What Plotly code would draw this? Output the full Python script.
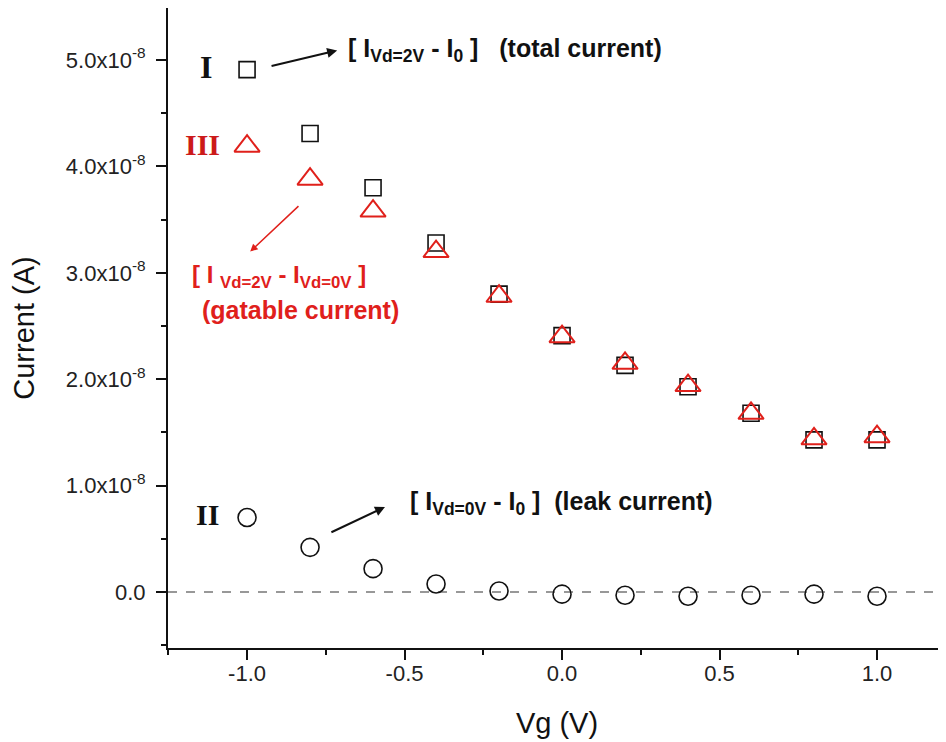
import plotly.graph_objects as go

vg = [-1.0, -0.8, -0.6, -0.4, -0.2, 0.0, 0.2, 0.4, 0.6, 0.8, 1.0]
total_current = [4.91e-8, 4.31e-8, 3.80e-8, 3.28e-8, 2.80e-8, 2.41e-8, 2.13e-8, 1.93e-8, 1.68e-8, 1.43e-8, 1.43e-8]
gatable_current = [4.19e-8, 3.88e-8, 3.58e-8, 3.20e-8, 2.78e-8, 2.40e-8, 2.15e-8, 1.94e-8, 1.68e-8, 1.44e-8, 1.46e-8]
leak_current = [0.70e-8, 0.42e-8, 0.22e-8, 0.075e-8, 0.01e-8, -0.02e-8, -0.03e-8, -0.04e-8, -0.03e-8, -0.02e-8, -0.04e-8]

y_tick_vals = [0.0, 1e-8, 2e-8, 3e-8, 4e-8, 5e-8]
y_tick_text = ["0.0", "1.0x10<sup>-8</sup>", "2.0x10<sup>-8</sup>", "3.0x10<sup>-8</sup>",
               "4.0x10<sup>-8</sup>", "5.0x10<sup>-8</sup>"]
x_tick_vals = [-1.0, -0.5, 0.0, 0.5, 1.0]
x_tick_text = ["-1.0", "-0.5", "0.0", "0.5", "1.0"]

RED = "#e0201b"
SANS = "Liberation Sans, Arial, sans-serif"
SERIF = "Liberation Serif, Times New Roman, serif"

fig = go.Figure()

fig.add_shape(type="line", xref="paper", yref="y", x0=0, x1=1, y0=0, y1=0,
              line=dict(color="#777777", width=1.5, dash="dash"), layer="below")

fig.add_trace(go.Scatter(x=vg, y=total_current, mode="markers", name="I",
                         marker=dict(symbol="square-open", size=16, color="#111111",
                                     line=dict(width=1.6, color="#111111"))))
fig.add_trace(go.Scatter(x=vg, y=gatable_current, mode="markers", name="III",
                         marker=dict(symbol="triangle-up-open", size=22, color=RED,
                                     line=dict(width=2, color=RED))))
fig.add_trace(go.Scatter(x=vg, y=leak_current, mode="markers", name="II",
                         marker=dict(symbol="circle-open", size=18, color="#111111",
                                     line=dict(width=1.6, color="#111111"))))

ann = []
# roman labels
ann.append(dict(x=-1.131, y=4.93e-8, text="<b>I</b>", showarrow=False,
                font=dict(family=SERIF, size=32, color="#111111")))
ann.append(dict(x=-1.143, y=4.21e-8, text="<b>III</b>", showarrow=False,
                font=dict(family=SERIF, size=30, color="#cc1a1a")))
ann.append(dict(x=-1.127, y=0.73e-8, text="<b>II</b>", showarrow=False,
                font=dict(family=SERIF, size=30, color="#111111")))
# total current
ann.append(dict(x=-0.686, y=5.09e-8, xanchor="left", showarrow=False,
                text="<b>[ I<sub>Vd=2V</sub> - I<sub>0</sub> ]   (total current)</b>",
                font=dict(family=SANS, size=25, color="#111111")))
ann.append(dict(x=-0.714, y=5.09e-8, ax=-0.927, ay=4.94e-8, axref="x", ayref="y",
                text="", showarrow=True, arrowhead=2, arrowsize=1, arrowwidth=2,
                arrowcolor="#111111"))
# gatable current
ann.append(dict(x=-1.18, y=2.97e-8, xanchor="left", showarrow=False,
                text="<b>[ I <sub>Vd=2V</sub> - I<sub>Vd=0V</sub> ]</b>",
                font=dict(family=SANS, size=24, color=RED)))
ann.append(dict(x=-0.83, y=2.65e-8, showarrow=False,
                text="<b>(gatable current)</b>",
                font=dict(family=SANS, size=25, color=RED)))
ann.append(dict(x=-0.990, y=3.20e-8, ax=-0.832, ay=3.64e-8, axref="x", ayref="y",
                text="", showarrow=True, arrowhead=2, arrowsize=1, arrowwidth=1.5,
                arrowcolor=RED))
# leak current
ann.append(dict(x=-0.49, y=0.84e-8, xanchor="left", showarrow=False,
                text="<b>[ I<sub>Vd=0V</sub> - I<sub>0</sub> ]  (leak current)</b>",
                font=dict(family=SANS, size=25, color="#111111")))
ann.append(dict(x=-0.562, y=0.80e-8, ax=-0.737, ay=0.555e-8, axref="x", ayref="y",
                text="", showarrow=True, arrowhead=2, arrowsize=1, arrowwidth=2,
                arrowcolor="#111111"))

fig.update_layout(
    width=946, height=742,
    margin=dict(l=160, r=8, t=0, b=102),
    paper_bgcolor="white", plot_bgcolor="white",
    showlegend=False,
    annotations=ann,
    font=dict(family=SANS, color="#222222"),
)
fig.update_xaxes(
    range=[-1.251, 1.219], showgrid=False, zeroline=False, automargin=False,
    showline=True, linecolor="#111111", linewidth=2,
    ticks="outside", ticklen=10, tickwidth=1.5, tickcolor="#111111",
    ticklabelstandoff=-5,
    tickvals=x_tick_vals, ticktext=x_tick_text,
    minor=dict(ticks="outside", ticklen=5, tickwidth=1.5, tickcolor="#111111", dtick=0.25, tick0=0),
    tickfont=dict(family=SANS, size=22, color="#222222"),
    title=dict(text="Vg (V)", font=dict(family=SANS, size=29, color="#111111"), standoff=27),
)
fig.update_yaxes(
    range=[-0.526e-8, 5.489e-8], showgrid=False, zeroline=False, automargin=False,
    showline=True, linecolor="#111111", linewidth=2,
    ticks="outside", ticklen=10, tickwidth=1.5, tickcolor="#111111",
    ticklabelstandoff=6,
    tickvals=y_tick_vals, ticktext=y_tick_text,
    minor=dict(ticks="outside", ticklen=5, tickwidth=1.5, tickcolor="#111111", dtick=0.5e-8, tick0=0),
    tickfont=dict(family=SANS, size=22, color="#222222"),
    title=dict(text="Current (A)", font=dict(family=SANS, size=29, color="#111111"), standoff=24),
)

fig.write_html("out.html")
